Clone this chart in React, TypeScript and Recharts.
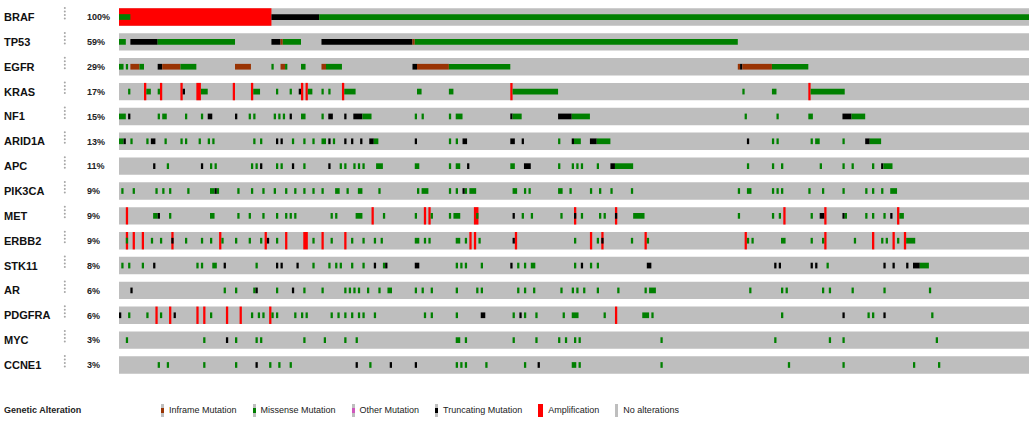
import React from "react";
import { ComposedChart, XAxis, YAxis, ReferenceArea, Legend } from "recharts";

// samples along the x axis (one column per tumour sample)
const N = 400;

const GENES = ["BRAF", "TP53", "EGFR", "KRAS", "NF1", "ARID1A", "APC", "PIK3CA", "MET", "ERBB2", "STK11", "AR", "PDGFRA", "MYC", "CCNE1"];
const PCTS = ["100%", "59%", "29%", "17%", "15%", "13%", "11%", "9%", "9%", "9%", "8%", "6%", "6%", "3%", "3%"];

// [first sample, last sample, type]  A=amplification M=missense T=truncating I=inframe
type Alt = [number, number, string];

const BRAF: Alt[] = [[0, 66, "A"], [0, 4, "M"], [67, 87, "T"], [88, 399, "M"]];
const TP53: Alt[] = [[0, 2, "M"], [5, 16, "T"], [17, 50, "M"], [67, 70, "T"], [71, 71, "I"], [72, 79, "M"], [89, 128, "T"], [129, 129, "I"], [130, 271, "M"]];
const EGFR: Alt[] = [[0, 1, "M"], [3, 3, "M"], [5, 8, "I"], [9, 10, "M"], [17, 18, "T"], [19, 26, "I"], [27, 33, "M"], [51, 57, "I"], [67, 67, "M"], [71, 72, "I"], [73, 73, "M"], [80, 81, "M"], [89, 90, "I"], [91, 97, "M"], [129, 130, "T"], [131, 144, "I"], [145, 171, "M"], [272, 272, "I"], [273, 273, "T"], [274, 286, "I"], [287, 302, "M"]];
const KRAS: Alt[] = [[4, 4, "M"], [11, 11, "A"], [12, 13, "M"], [17, 17, "M"], [18, 18, "A"], [27, 27, "A"], [28, 28, "T"], [34, 35, "A"], [36, 38, "M"], [50, 50, "A"], [58, 58, "A"], [59, 61, "M"], [69, 69, "M"], [75, 75, "M"], [79, 79, "T"], [80, 80, "A"], [82, 82, "A"], [83, 84, "M"], [89, 89, "M"], [92, 92, "M"], [98, 98, "A"], [99, 103, "M"], [131, 132, "M"], [145, 146, "M"], [172, 172, "A"], [173, 192, "M"], [274, 274, "M"], [287, 288, "M"], [303, 303, "A"], [304, 318, "M"]];
const NF1: Alt[] = [[0, 2, "M"], [4, 4, "T"], [17, 17, "M"], [19, 20, "M"], [29, 29, "M"], [36, 36, "M"], [39, 40, "T"], [51, 51, "T"], [57, 57, "M"], [59, 59, "M"], [68, 68, "M"], [70, 70, "M"], [72, 72, "M"], [75, 75, "T"], [80, 81, "M"], [89, 89, "M"], [92, 93, "T"], [99, 99, "T"], [103, 106, "T"], [107, 110, "M"], [130, 130, "M"], [133, 133, "M"], [145, 145, "M"], [148, 150, "M"], [172, 172, "T"], [173, 176, "M"], [193, 198, "T"], [199, 206, "M"], [275, 275, "M"], [289, 289, "M"], [303, 304, "M"], [318, 321, "T"], [322, 327, "M"]];
const ARID1A: Alt[] = [[0, 1, "M"], [2, 2, "T"], [5, 5, "M"], [12, 12, "M"], [14, 15, "T"], [20, 20, "M"], [27, 27, "M"], [29, 29, "M"], [35, 35, "M"], [39, 39, "M"], [41, 41, "M"], [59, 59, "M"], [62, 62, "M"], [69, 69, "T"], [71, 71, "T"], [76, 76, "M"], [81, 81, "M"], [85, 85, "M"], [89, 90, "M"], [92, 92, "T"], [94, 94, "M"], [99, 99, "T"], [102, 102, "T"], [106, 106, "T"], [110, 111, "T"], [112, 113, "M"], [130, 130, "T"], [145, 145, "M"], [148, 148, "M"], [151, 152, "T"], [172, 173, "T"], [177, 177, "T"], [193, 193, "M"], [199, 199, "T"], [200, 202, "M"], [207, 209, "T"], [210, 215, "M"], [276, 276, "T"], [287, 287, "M"], [289, 289, "M"], [304, 304, "M"], [306, 307, "M"], [318, 318, "M"], [328, 329, "T"], [330, 334, "M"]];
const APC: Alt[] = [[15, 15, "T"], [21, 21, "M"], [36, 36, "T"], [40, 40, "M"], [42, 42, "M"], [58, 58, "M"], [60, 60, "M"], [62, 62, "T"], [69, 69, "M"], [71, 71, "M"], [76, 76, "T"], [81, 81, "M"], [92, 92, "T"], [97, 97, "M"], [99, 99, "M"], [103, 103, "M"], [105, 105, "M"], [107, 107, "M"], [113, 115, "M"], [130, 131, "M"], [145, 145, "M"], [148, 149, "M"], [153, 153, "T"], [172, 173, "M"], [178, 180, "T"], [193, 193, "M"], [199, 199, "M"], [201, 201, "M"], [203, 203, "M"], [210, 210, "M"], [216, 217, "T"], [218, 225, "M"], [276, 276, "M"], [287, 287, "M"], [291, 291, "M"], [308, 308, "M"], [318, 318, "M"], [322, 322, "M"], [331, 331, "M"], [335, 335, "T"], [336, 339, "M"]];
const PIK3CA: Alt[] = [[1, 1, "M"], [6, 6, "M"], [16, 16, "M"], [19, 19, "M"], [22, 22, "M"], [30, 30, "M"], [40, 41, "M"], [42, 42, "T"], [43, 43, "M"], [52, 52, "M"], [58, 58, "M"], [63, 63, "M"], [68, 68, "M"], [73, 73, "M"], [77, 77, "M"], [81, 81, "M"], [85, 85, "M"], [89, 89, "M"], [95, 96, "M"], [100, 100, "M"], [105, 106, "M"], [114, 114, "M"], [131, 131, "M"], [133, 135, "M"], [145, 145, "M"], [148, 148, "M"], [151, 151, "T"], [152, 152, "M"], [154, 156, "M"], [173, 174, "M"], [178, 178, "M"], [180, 180, "M"], [193, 194, "M"], [198, 198, "M"], [207, 207, "M"], [211, 211, "M"], [216, 216, "M"], [225, 225, "M"], [272, 272, "M"], [276, 277, "M"], [287, 287, "M"], [289, 289, "M"], [291, 291, "M"], [303, 303, "M"], [309, 309, "M"], [318, 318, "M"], [328, 328, "M"], [331, 331, "M"], [335, 335, "M"], [339, 341, "M"]];
const MET: Alt[] = [[3, 3, "A"], [15, 16, "M"], [17, 17, "T"], [22, 22, "M"], [40, 41, "M"], [52, 52, "M"], [57, 57, "M"], [63, 63, "M"], [69, 69, "M"], [73, 73, "M"], [75, 75, "M"], [77, 77, "M"], [93, 93, "M"], [95, 95, "M"], [104, 106, "M"], [111, 111, "A"], [116, 116, "M"], [130, 130, "M"], [134, 134, "A"], [136, 136, "A"], [137, 137, "M"], [145, 145, "M"], [147, 149, "M"], [156, 157, "A"], [157, 157, "M"], [173, 173, "T"], [177, 177, "M"], [181, 181, "M"], [194, 194, "M"], [200, 200, "A"], [200, 200, "T"], [203, 203, "M"], [211, 211, "M"], [213, 213, "M"], [218, 218, "A"], [218, 218, "T"], [226, 230, "M"], [272, 272, "M"], [287, 287, "M"], [290, 290, "M"], [292, 292, "A"], [304, 304, "M"], [308, 309, "T"], [310, 310, "A"], [318, 318, "T"], [319, 319, "M"], [328, 328, "M"], [331, 331, "M"], [336, 336, "M"], [339, 339, "T"], [342, 342, "A"], [343, 344, "M"]];
const ERBB2: Alt[] = [[3, 3, "A"], [3, 3, "M"], [6, 6, "A"], [10, 10, "A"], [14, 14, "M"], [18, 18, "M"], [23, 23, "A"], [23, 23, "T"], [29, 29, "M"], [36, 36, "M"], [40, 40, "M"], [44, 44, "A"], [45, 45, "M"], [51, 51, "M"], [57, 57, "M"], [62, 62, "M"], [64, 64, "A"], [65, 65, "T"], [69, 69, "M"], [73, 73, "A"], [81, 82, "A"], [85, 85, "M"], [89, 89, "A"], [93, 93, "M"], [99, 99, "A"], [102, 102, "M"], [107, 107, "M"], [112, 112, "M"], [115, 115, "M"], [130, 131, "M"], [134, 134, "M"], [136, 136, "M"], [148, 149, "M"], [152, 152, "M"], [154, 154, "A"], [156, 156, "A"], [158, 158, "M"], [173, 173, "T"], [174, 174, "A"], [200, 200, "M"], [207, 207, "A"], [210, 210, "M"], [212, 212, "A"], [212, 212, "T"], [225, 225, "M"], [231, 231, "A"], [232, 232, "M"], [275, 275, "A"], [276, 276, "M"], [278, 278, "M"], [291, 292, "M"], [304, 304, "M"], [309, 309, "M"], [310, 310, "A"], [323, 323, "M"], [331, 331, "A"], [335, 335, "M"], [337, 337, "M"], [340, 340, "A"], [342, 342, "M"], [345, 345, "A"], [346, 349, "M"]];
const STK11: Alt[] = [[1, 1, "M"], [4, 4, "M"], [10, 10, "M"], [15, 15, "T"], [34, 34, "M"], [36, 36, "M"], [41, 42, "M"], [46, 46, "T"], [60, 60, "M"], [69, 69, "T"], [71, 71, "T"], [78, 78, "T"], [85, 85, "M"], [92, 92, "M"], [95, 95, "M"], [97, 97, "M"], [102, 102, "M"], [107, 107, "M"], [112, 112, "T"], [116, 116, "M"], [117, 117, "T"], [130, 131, "T"], [148, 148, "M"], [150, 150, "M"], [152, 152, "M"], [159, 159, "M"], [172, 172, "T"], [175, 175, "M"], [178, 178, "M"], [181, 182, "M"], [200, 200, "M"], [203, 203, "T"], [207, 207, "M"], [210, 210, "M"], [232, 233, "T"], [288, 288, "T"], [290, 290, "T"], [304, 304, "T"], [306, 306, "T"], [311, 311, "M"], [336, 336, "T"], [340, 340, "T"], [346, 346, "T"], [349, 351, "T"], [352, 355, "M"]];
const AR: Alt[] = [[5, 5, "T"], [46, 46, "M"], [51, 51, "M"], [59, 59, "M"], [60, 60, "T"], [69, 69, "M"], [76, 76, "T"], [81, 81, "M"], [89, 89, "M"], [99, 99, "M"], [101, 101, "M"], [103, 103, "M"], [105, 105, "M"], [109, 109, "M"], [114, 114, "M"], [118, 119, "M"], [130, 130, "M"], [133, 133, "M"], [137, 137, "M"], [148, 148, "M"], [157, 157, "M"], [159, 159, "M"], [175, 175, "M"], [178, 178, "M"], [182, 182, "M"], [194, 194, "M"], [199, 199, "M"], [201, 201, "M"], [204, 204, "M"], [210, 210, "M"], [219, 219, "M"], [231, 231, "M"], [233, 235, "M"], [277, 277, "M"], [291, 291, "M"], [293, 293, "M"], [309, 309, "M"], [312, 312, "M"], [322, 322, "M"], [336, 336, "M"], [356, 356, "M"]];
const PDGFRA: Alt[] = [[0, 0, "T"], [4, 4, "M"], [12, 12, "M"], [16, 16, "A"], [18, 18, "M"], [22, 22, "A"], [24, 24, "T"], [34, 34, "A"], [37, 37, "A"], [40, 40, "M"], [47, 47, "A"], [53, 53, "A"], [58, 58, "M"], [61, 61, "M"], [63, 63, "M"], [66, 66, "A"], [67, 67, "M"], [69, 69, "M"], [77, 77, "M"], [80, 80, "M"], [82, 82, "M"], [93, 93, "M"], [96, 96, "M"], [99, 99, "M"], [102, 102, "M"], [105, 105, "M"], [107, 107, "M"], [112, 112, "M"], [134, 134, "M"], [137, 137, "M"], [148, 148, "M"], [159, 160, "T"], [173, 173, "M"], [176, 176, "T"], [178, 178, "M"], [183, 183, "M"], [195, 195, "M"], [199, 201, "M"], [213, 213, "M"], [218, 218, "A"], [230, 232, "M"], [234, 234, "M"], [291, 291, "M"], [318, 318, "T"], [329, 329, "M"], [331, 331, "M"], [336, 336, "T"], [357, 357, "M"]];
const MYC: Alt[] = [[3, 3, "M"], [37, 37, "M"], [47, 47, "T"], [51, 51, "M"], [60, 60, "M"], [62, 62, "M"], [81, 81, "M"], [90, 90, "M"], [99, 99, "M"], [104, 104, "M"], [148, 149, "M"], [152, 152, "M"], [173, 173, "M"], [183, 183, "M"], [193, 193, "M"], [196, 196, "M"], [200, 200, "M"], [202, 202, "M"], [238, 238, "M"], [288, 288, "M"], [312, 312, "M"], [318, 318, "M"], [359, 359, "M"]];
const CCNE1: Alt[] = [[17, 17, "M"], [21, 21, "M"], [37, 37, "M"], [51, 51, "M"], [60, 60, "T"], [66, 66, "M"], [70, 70, "M"], [75, 75, "M"], [104, 104, "T"], [110, 110, "M"], [119, 119, "T"], [130, 130, "T"], [148, 148, "M"], [150, 150, "M"], [152, 152, "M"], [161, 161, "M"], [178, 178, "M"], [184, 184, "T"], [199, 200, "M"], [202, 202, "M"], [238, 238, "M"], [294, 294, "M"], [318, 318, "M"], [349, 349, "M"], [360, 360, "M"]];

const ALTS = [BRAF, TP53, EGFR, KRAS, NF1, ARID1A, APC, PIK3CA, MET, ERBB2, STK11, AR, PDGFRA, MYC, CCNE1];

const LEGEND_LABELS = ["Inframe Mutation", "Missense Mutation", "Other Mutation", "Truncating Mutation", "Amplification", "No alterations"];
const LEGEND_CODES = ["I", "M", "O", "T", "A", ""];

const COLORS: Record<string, string> = {
  A: "#ff0000",
  M: "#008000",
  T: "#000000",
  I: "#993404",
  O: "#cf58bc",
};
const GRAY = "#bebebe";
const FONT = "'Liberation Sans', Arial, Helvetica, sans-serif";

const rows = GENES.map((gene, i) => ({ gene, row: i }));

function GeneTick(props: any) {
  const { y, payload } = props;
  const i = payload.value;
  return (
    <g>
      <text x={4} y={y} dy="0.36em" fontFamily={FONT} fontWeight="bold" fontSize={11} fill="#111">
        {GENES[i]}
      </text>
      {[-7, -3.5, 0, 3.5].map((d) => (
        <circle key={d} cx={64.8} cy={y - 2 + d} r={1} fill="#a6a6a6" />
      ))}
      <text x={87} y={y} dy="0.36em" fontFamily={FONT} fontWeight="bold" fontSize={9} fill="#222">
        {PCTS[i]}
      </text>
    </g>
  );
}

function LegendBox() {
  return (
    <div style={{ display: "flex", alignItems: "center", fontFamily: FONT, fontSize: 9, color: "#222", height: 16 }}>
      <span style={{ fontWeight: "bold", width: 161, paddingLeft: 4, boxSizing: "border-box" }}>Genetic Alteration</span>
      {LEGEND_LABELS.map((label, k) => {
        const code = LEGEND_CODES[k];
        const isAmp = code === "A";
        return (
          <span key={label} style={{ display: "flex", alignItems: "center", marginRight: 16 }}>
            <svg width={isAmp ? 5 : 3} height={13} style={{ marginRight: 5 }}>
              <rect x={0} y={0} width={isAmp ? 5 : 3} height={13} fill={isAmp ? COLORS.A : GRAY} />
              {code && !isAmp && <rect x={0} y={4} width={3} height={5} fill={COLORS[code]} />}
            </svg>
            {label}
          </span>
        );
      })}
    </div>
  );
}

export default function App() {
  const amps: React.ReactNode[] = [];
  const muts: React.ReactNode[] = [];
  ALTS.forEach((alts, row) => {
    alts.forEach(([from, to, code], k) => {
      const amp = code === "A";
      const h = amp ? 0.35 : 0.115;
      const el = (
        <ReferenceArea
          key={`${row}-${k}`}
          x1={from}
          x2={to + 1}
          y1={row - h}
          y2={row + h}
          fill={COLORS[code]}
          fillOpacity={1}
          stroke="none"
          ifOverflow="visible"
        />
      );
      (amp ? amps : muts).push(el);
    });
  });

  return (
    <div style={{ position: "absolute", left: 0, top: 0, background: "#fff" }}>
      <ComposedChart width={1032} height={423} data={rows} margin={{ top: 4.6, right: 3, bottom: 45.6, left: 0 }}>
        <XAxis type="number" dataKey="row" domain={[0, N]} hide allowDataOverflow />
        <YAxis
          type="number"
          domain={[-0.5, 14.5]}
          reversed
          width={119}
          ticks={rows.map((r) => r.row)}
          interval={0}
          axisLine={false}
          tickLine={false}
          tick={<GeneTick />}
          allowDataOverflow
        />
        {rows.map((r) => (
          <ReferenceArea
            key={`bg-${r.row}`}
            x1={0}
            x2={N}
            y1={r.row - 0.35}
            y2={r.row + 0.35}
            fill={GRAY}
            fillOpacity={1}
            stroke="none"
          />
        ))}
        {amps}
        {muts}
        <Legend
          verticalAlign="middle"
          layout="horizontal"
          content={<LegendBox />}
          wrapperStyle={{ position: "absolute", left: 0, top: 402, width: 1032, height: 16 }}
        />
      </ComposedChart>
    </div>
  );
}
